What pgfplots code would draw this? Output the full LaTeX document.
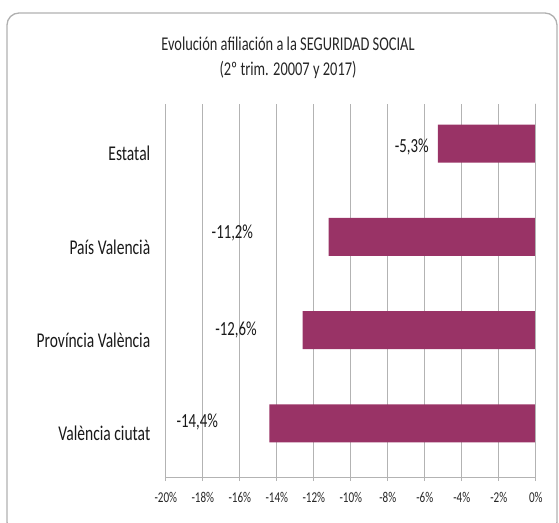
\documentclass[border=0pt]{standalone}
\usepackage{pgfplots}
\pgfplotsset{compat=1.18}
\usepackage{fontspec}
\setmainfont{Carlito}[FakeStretch=0.74]
\definecolor{barplum}{HTML}{993366}
\definecolor{gridgray}{HTML}{B3B3B3}
\definecolor{framegray}{HTML}{B0B0B0}

\begin{document}
\begin{tikzpicture}[x=1pt,y=1pt]
\useasboundingbox (0,0) rectangle (559,522);
% outer chart frame
\draw[framegray, line width=1.3pt, rounded corners=12pt] (7,-12) rectangle (557,509);
\node[font=\fontsize{19.5}{25}\selectfont, align=center, text=black!85] at (288,464)
  {Evolución afiliación a la SEGURIDAD SOCIAL\\(2º trim. 20007 y 2017)};

\begin{axis}[
    at={(165.8pt,45pt)}, anchor=south west,
    width=370pt, height=373pt, scale only axis,
    xbar, bar width=38pt, bar shift=7pt,
    xmin=-20, xmax=0, ymin=-0.5, ymax=3.5,
    xtick={-20,-18,-16,-14,-12,-10,-8,-6,-4,-2,0},
    xticklabels={-20\%,-18\%,-16\%,-14\%,-12\%,-10\%,-8\%,-6\%,-4\%,-2\%,0\%},
    ytick={0,1,2,3},
    yticklabels={València ciutat,Província València,País Valencià,Estatal},
    xmajorgrids,
    grid style={gridgray, line width=1pt},
    axis line style={draw=none},
    xtick pos=bottom,
    tick align=outside,
    major tick length=4pt,
    xtick style={gridgray, line width=1pt},
    ytick style={draw=none},
    xticklabel style={font=\fontsize{15}{15}\selectfont, text=black!85, yshift=-8pt},
    yticklabel style={font=\fontsize{21}{21}\selectfont, text=black!90, xshift=-8pt, yshift=-3pt},
]
\addplot[fill=barplum, draw=none] coordinates {
    (-14.4,0)
    (-12.6,1)
    (-11.2,2)
    (-5.3,3)
};
% bottom and right axis lines with category ticks
\draw[gridgray, line width=1pt] (rel axis cs:0,0) -- (rel axis cs:1,0) -- (rel axis cs:1,1);
\pgfplotsinvokeforeach{-0.5,0.5,1.5,2.5,3.5}{
  \draw[gridgray, line width=1pt] (axis cs:0,#1) -- ++(-5pt,0);
}
% data labels
\begin{scope}[every node/.style={font=\fontsize{20}{20}\selectfont, text=black!90}]
\node at (axis cs:-6.7,3.04) {-5,3\%};
\node at (axis cs:-16.4,2.12) {-11,2\%};
\node at (axis cs:-16.2,1.08) {-12,6\%};
\node at (axis cs:-18.3,0.09) {-14,4\%};
\end{scope}
\end{axis}
\end{tikzpicture}
\end{document}
